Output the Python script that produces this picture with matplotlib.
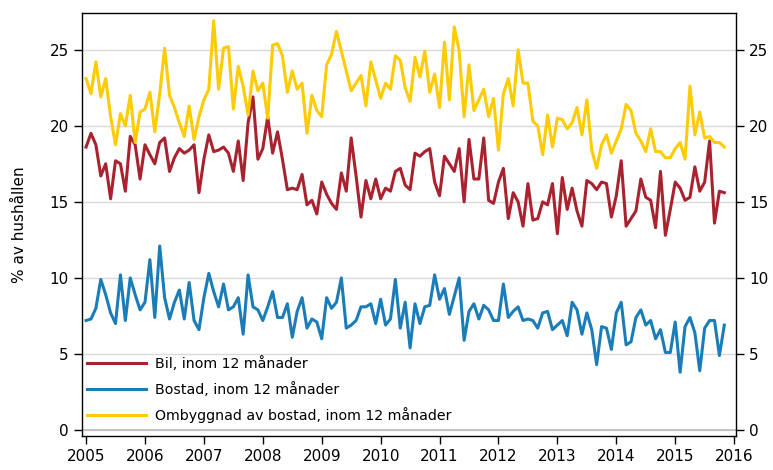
import numpy as np
import matplotlib.pyplot as plt

# Monthly values, Jan 2005 - Nov 2015 (% of households)
bil = [18.6, 19.5, 18.75, 16.7, 17.5, 15.2, 17.7, 17.5, 15.7, 19.3, 18.75, 16.5,
       18.75, 18.1, 17.5, 18.9, 19.2, 17.0, 17.9, 18.5, 18.2, 18.4, 18.75, 15.6,
       17.8, 19.4, 18.3, 18.4, 18.6, 18.2, 17.0, 19.0, 16.4, 20.2, 21.9, 17.8,
       18.5, 20.6, 18.2, 19.6, 17.8, 15.8, 15.9, 15.8, 16.8, 14.8, 15.1, 14.2,
       16.3, 15.5, 14.9, 14.5, 16.9, 15.7, 19.2, 16.7, 14.0, 16.4, 15.2, 16.5,
       15.2, 15.9, 15.7, 17.0, 17.2, 16.1, 15.8, 18.2, 18.0, 18.3, 18.5, 16.3,
       15.4, 18.0, 17.5, 17.0, 18.5, 15.0, 19.1, 16.5, 16.5, 19.2, 15.1, 14.9,
       16.3, 17.2, 13.9, 15.6, 15.0, 13.4, 16.2, 13.8, 13.9, 15.0, 14.8, 16.2,
       12.9, 16.6, 14.5, 15.9, 14.4, 13.4, 16.4, 16.2, 15.8, 16.3, 16.2, 14.0,
       15.4, 17.7, 13.4, 13.9, 14.4, 16.5, 15.3, 15.1, 13.3, 17.0, 12.8, 14.5,
       16.3, 15.9, 15.1, 15.3, 17.3, 15.7, 16.3, 19.0, 13.6, 15.7, 15.6]

bostad = [7.2, 7.3, 8.0, 9.9, 8.9, 7.7, 7.0, 10.2, 7.2, 10.0, 8.9, 7.9,
          8.4, 11.2, 7.4, 12.1, 8.7, 7.3, 8.4, 9.2, 7.3, 9.7, 7.2, 6.6,
          8.7, 10.3, 9.1, 8.1, 9.6, 7.9, 8.1, 8.7, 6.3, 10.2, 8.1, 7.9,
          7.2, 8.1, 9.1, 7.4, 7.4, 8.3, 6.1, 7.8, 8.7, 6.7, 7.3, 7.1,
          6.0, 8.7, 8.0, 8.4, 10.0, 6.7, 6.9, 7.2, 8.1, 8.1, 8.3, 7.0,
          8.6, 6.9, 7.3, 9.9, 6.7, 8.4, 5.4, 8.3, 7.0, 8.1, 8.2, 10.2,
          8.6, 9.3, 7.6, 8.8, 10.0, 5.9, 7.8, 8.3, 7.3, 8.2, 7.9, 7.2,
          7.2, 9.6, 7.4, 7.8, 8.1, 7.2, 7.3, 7.2, 6.7, 7.7, 7.8, 6.6,
          6.9, 7.2, 6.2, 8.4, 7.9, 6.3, 7.7, 6.6, 4.3, 6.8, 6.7, 5.3,
          7.7, 8.4, 5.6, 5.8, 7.4, 7.9, 6.9, 7.2, 6.0, 6.6, 5.1, 5.1,
          7.1, 3.8, 6.8, 7.4, 6.4, 3.9, 6.7, 7.2, 7.2, 4.9, 6.9]

ombyggnad = [23.1, 22.1, 24.2, 21.9, 23.1, 20.6, 18.75, 20.8, 20.0, 22.0, 18.9, 20.9,
             21.1, 22.2, 19.6, 22.1, 25.1, 22.0, 21.2, 20.2, 19.3, 21.3, 19.1, 20.6,
             21.7, 22.4, 26.9, 22.4, 25.1, 25.2, 21.1, 23.9, 22.6, 20.7, 23.6, 22.3,
             22.8, 20.5, 25.3, 25.4, 24.6, 22.2, 23.6, 22.4, 22.8, 19.5, 22.0, 21.0,
             20.6, 24.0, 24.7, 26.2, 24.9, 23.6, 22.3, 22.8, 23.3, 21.3, 24.2, 23.0,
             21.8, 22.8, 22.4, 24.6, 24.3, 22.5, 21.6, 24.5, 23.2, 24.9, 22.2, 23.4,
             21.2, 25.5, 21.7, 26.5, 24.9, 20.6, 24.0, 21.0, 21.7, 22.4, 20.6, 21.8,
             18.4, 22.1, 23.1, 21.3, 25.0, 22.8, 22.8, 20.3, 20.0, 18.1, 20.7, 18.6,
             20.5, 20.4, 19.8, 20.2, 21.2, 19.4, 21.7, 18.4, 17.2, 18.75, 19.4, 18.2,
             19.0, 19.8, 21.4, 21.0, 19.5, 19.0, 18.3, 19.8, 18.3, 18.3, 17.9, 17.9,
             18.5, 18.9, 17.8, 22.6, 19.4, 20.9, 19.2, 19.3, 18.9, 18.9, 18.6]

labels = ['Bil, inom 12 månader', 'Bostad, inom 12 månader',
          'Ombyggnad av bostad, inom 12 månader']
colors = ['#A8232F', '#1A7DB8', '#FFCB05']
years = list(range(2005, 2017))
yticks = [0, 5, 10, 15, 20, 25]

# time axis in decimal years
t = 2005 + np.arange(len(bil)) / 12

fig = plt.figure(figsize=(7.73, 4.70), dpi=100)
ax = fig.add_axes([0.106, 0.072, 0.846, 0.9])

for vals, lab, col in zip([bil, bostad, ombyggnad], labels, colors):
    ax.plot(t, vals, color=col, linewidth=2.2, label=lab)

ax.set_xlim(2004.93, 2016.03)
ax.set_ylim(-0.4, 27.4)
ax.set_xticks(years)
ax.set_yticks(yticks)
ax.grid(axis='y', color='#d9d9d9', linewidth=1)
ax.axhline(0, color='#bdbdbd', linewidth=1.2, zorder=1)
ax.set_axisbelow(True)
ax.tick_params(axis='both', direction='out', length=6, width=1, labelsize=11)
ax.tick_params(axis='y', right=True, labelright=True)
for s in ax.spines.values():
    s.set_linewidth(1)
ax.set_ylabel('% av hushållen', fontsize=11, labelpad=16)

ax.legend(loc='lower left', bbox_to_anchor=(-0.012, 0.0), frameon=False,
          fontsize=10.2, handlelength=4.2, handletextpad=0.6,
          labelspacing=0.75, borderaxespad=0.5)

plt.savefig('out.png', dpi=100)
